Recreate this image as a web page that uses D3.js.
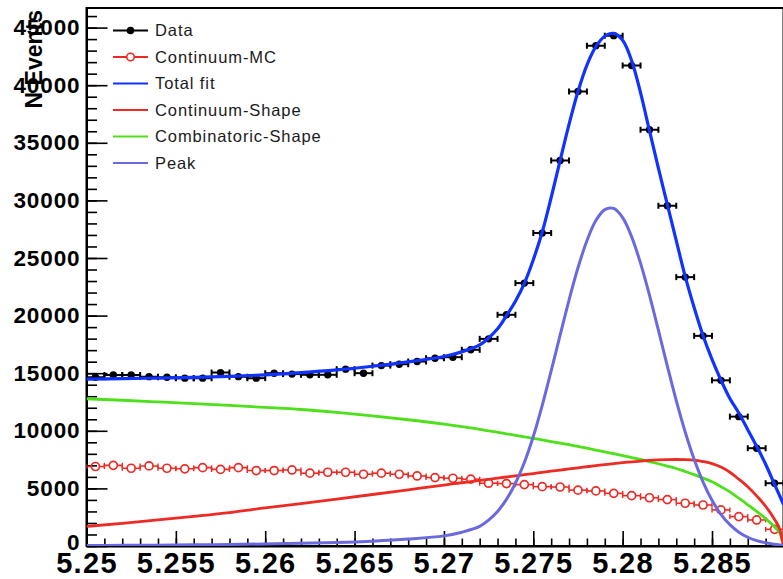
<!DOCTYPE html>
<html>
<head>
<meta charset="utf-8">
<script src="https://cdn.jsdelivr.net/npm/d3@7"></script>
<style>
  html, body { margin: 0; padding: 0; background: #fff; }
  svg { display: block; }
</style>
</head>
<body>
<svg id="chart" width="783" height="579"></svg>
<script>
// ---- mES histograms: bin centres (bin width 0.001 GeV) ----
const binCenters = [5.2505, 5.2515, 5.2525, 5.2535, 5.2545, 5.2555, 5.2565, 5.2575, 5.2585, 5.2595,
                    5.2605, 5.2615, 5.2625, 5.2635, 5.2645, 5.2655, 5.2665, 5.2675, 5.2685, 5.2695,
                    5.2705, 5.2715, 5.2725, 5.2735, 5.2745, 5.2755, 5.2765, 5.2775, 5.2785, 5.2795,
                    5.2805, 5.2815, 5.2825, 5.2835, 5.2845, 5.2855, 5.2865, 5.2875, 5.2885];
const binHalfWidth = 0.0005;

// on-peak data
const dataCounts = [14650, 14850, 14850, 14700, 14650, 14570, 14570, 15050, 14700, 14570,
                    15000, 14920, 14860, 14860, 15350, 15000, 15660, 15780, 16010, 16300,
                    16390, 17030, 17980, 20070, 22820, 27160, 33470, 39460, 43430, 44300,
                    41700, 36140, 29540, 23340, 18240, 14380, 11230, 8490, 5450];

// continuum Monte Carlo
const mcCounts = [6900, 7000, 6750, 6950, 6750, 6700, 6800, 6650, 6800, 6550,
                  6550, 6600, 6320, 6400, 6400, 6230, 6320, 6230, 6080, 5940,
                  5880, 5800, 5450, 5420, 5330, 5150, 5120, 4850, 4780, 4570,
                  4370, 4190, 4030, 3710, 3560, 3130, 2550, 2260, 1450];

// ---- fitted shapes, sampled along mES ----
const curveX = [5.250, 5.252, 5.254, 5.256, 5.258, 5.260, 5.262, 5.264, 5.266, 5.268,
                5.270, 5.271, 5.272, 5.2725, 5.273, 5.2735, 5.274, 5.2745, 5.275, 5.2755,
                5.276, 5.2765, 5.277, 5.2775, 5.278, 5.2785, 5.279, 5.2795, 5.280, 5.2805,
                5.281, 5.2815, 5.282, 5.2825, 5.283, 5.2835, 5.284, 5.2845, 5.285, 5.2855,
                5.286, 5.2865, 5.287, 5.2875, 5.288, 5.2885, 5.2888, 5.289];

const totalFit = [14480, 14530, 14580, 14640, 14730, 14860, 15050, 15290, 15600, 15980,
                  16450, 16850, 17450, 18050, 18850, 20000, 21250, 22800, 24850, 27250,
                  30250, 33450, 36600, 39450, 41750, 43350, 44250, 44500, 43900, 42150,
                  39350, 36050, 32800, 29650, 26500, 23400, 20700, 18250, 16200, 14400,
                  12800, 11550, 10100, 8650, 7100, 5350, 4300, 3600];

const continuumShape = [1700, 1970, 2260, 2570, 2900, 3300, 3680, 4070, 4470, 4880,
                        5290, 5490, 5690, 5790, 5890, 5990, 6090, 6190, 6290, 6390,
                        6490, 6590, 6690, 6790, 6880, 6970, 7060, 7150, 7230, 7300,
                        7370, 7430, 7470, 7500, 7510, 7500, 7460, 7330, 7150, 6850,
                        6400, 5800, 5150, 4350, 3450, 2300, 1400, 0];

const combinatoricShape = [12780, 12650, 12510, 12360, 12200, 12030, 11850, 11600, 11300, 10960,
                           10580, 10360, 10130, 9990, 9870, 9740, 9610, 9480, 9350, 9210,
                           9070, 8930, 8790, 8640, 8490, 8330, 8170, 8010, 7850, 7680,
                           7510, 7330, 7140, 6940, 6730, 6470, 6200, 5900, 5570, 5150,
                           4700, 4150, 3580, 3000, 2380, 1650, 1100, 0];

const peakShape = [40, 55, 75, 100, 135, 175, 230, 300, 420, 600,
                   880, 1200, 1700, 2250, 3000, 4050, 5450, 7250, 9500, 12200,
                   15200, 18300, 21350, 24150, 26500, 28250, 29200, 29300, 28500, 26850,
                   24550, 21780, 18730, 15620, 12620, 9900, 7530, 5550, 3970, 2750,
                   1850, 1200, 760, 470, 280, 150, 80, 0];

// ---- axes ----
const xMajorTicks = [5.25, 5.255, 5.26, 5.265, 5.27, 5.275, 5.28, 5.285];
const xTickLabels = ["5.25", "5.255", "5.26", "5.265", "5.27", "5.275", "5.28", "5.285"];
const yMajorTicks = [0, 5000, 10000, 15000, 20000, 25000, 30000, 35000, 40000, 45000];
const yTickLabels = ["0", "5000", "10000", "15000", "20000", "25000", "30000", "35000", "40000", "45000"];
const yTitle = "N Events";

const legendLabels = ["Data", "Continuum-MC", "Total fit", "Continuum-Shape", "Combinatoric-Shape", "Peak"];

// ---- layout ----
const plot = { left: 86.5, right: 783.5, top: 8, bottom: 546 };
const FONT = "'Liberation Sans', Arial, Helvetica, sans-serif";
const colors = {
  data: "#000000",
  mc: "#ee2a24",
  total: "#1133ff",
  continuum: "#ee2a24",
  combinatoric: "#4ee01a",
  peak: "#6a6ade"
};

const svg = d3.select("#chart");

const x = d3.scaleLinear().domain([5.25, 5.289]).range([plot.left, plot.right]);
const y = d3.scaleLinear().domain([0, 46700]).range([plot.bottom, plot.top]);

svg.append("defs").append("clipPath").attr("id", "plotClip")
  .append("rect")
  .attr("x", plot.left).attr("y", plot.top)
  .attr("width", plot.right - plot.left).attr("height", plot.bottom - plot.top);

// frame
svg.append("rect")
  .attr("x", plot.left).attr("y", plot.top)
  .attr("width", plot.right - plot.left).attr("height", plot.bottom - plot.top)
  .attr("fill", "none").attr("stroke", "#000").attr("stroke-width", 2);

// x axis: minor ticks every 0.001, major every 0.005 (ticks drawn inward)
const xMinor = d3.range(0, 40).map(i => 5.25 + i * 0.001);
svg.append("g")
  .attr("transform", `translate(0,${plot.bottom})`)
  .call(d3.axisBottom(x).tickValues(xMinor).tickFormat("").tickSizeInner(-7.5).tickSizeOuter(0))
  .call(g => g.select(".domain").remove())
  .call(g => g.selectAll("line").attr("stroke-width", 1.6));

svg.append("g")
  .attr("transform", `translate(0,${plot.bottom})`)
  .call(d3.axisBottom(x).tickValues(xMajorTicks)
        .tickFormat((d, i) => xTickLabels[i]).tickSizeInner(-15).tickSizeOuter(0).tickPadding(6))
  .call(g => g.select(".domain").attr("stroke-width", 2))
  .call(g => g.selectAll("line").attr("stroke-width", 1.6))
  .call(g => g.selectAll("text")
        .attr("font-family", FONT).attr("font-size", 29).attr("font-weight", "bold")
        .attr("letter-spacing", 1.3).attr("fill", "#000"));

// y axis: minor ticks every 1000, major every 5000
const yMinor = d3.range(0, 47).map(i => i * 1000);
svg.append("g")
  .attr("transform", `translate(${plot.left},0)`)
  .call(d3.axisLeft(y).tickValues(yMinor).tickFormat("").tickSizeInner(-10.5).tickSizeOuter(0))
  .call(g => g.select(".domain").remove())
  .call(g => g.selectAll("line").attr("stroke-width", 1.6));

svg.append("g")
  .attr("transform", `translate(${plot.left},0)`)
  .call(d3.axisLeft(y).tickValues(yMajorTicks)
        .tickFormat((d, i) => yTickLabels[i]).tickSizeInner(-21).tickSizeOuter(0).tickPadding(6))
  .call(g => g.select(".domain").attr("stroke-width", 2))
  .call(g => g.selectAll("line").attr("stroke-width", 1.6))
  .call(g => g.selectAll("text")
        .attr("font-family", FONT).attr("font-size", 22.5).attr("font-weight", "bold")
        .attr("letter-spacing", 0.9).attr("fill", "#000"))
  // the zero label sits a little higher so it clears the x labels
  .call(g => g.selectAll(".tick").filter(d => d === 0).select("text").attr("y", -3.5));

// y axis title, aligned with the top of the axis
svg.append("text")
  .attr("transform", `translate(42,${plot.top + 2}) rotate(-90)`)
  .attr("text-anchor", "end")
  .attr("font-family", FONT).attr("font-size", 23).attr("font-weight", "bold")
  .attr("fill", "#000")
  .text(yTitle);

const layer = svg.append("g").attr("clip-path", "url(#plotClip)");

// ---- data points with horizontal bin-width bars ----
const capH = 3;
const dataG = layer.append("g");
binCenters.forEach((c, i) => {
  const yy = y(dataCounts[i]);
  const x0 = x(c - binHalfWidth), x1 = x(c + binHalfWidth);
  dataG.append("line").attr("x1", x0).attr("x2", x1).attr("y1", yy).attr("y2", yy)
    .attr("stroke", colors.data).attr("stroke-width", 2);
  [x0, x1].forEach(xe => dataG.append("line")
    .attr("x1", xe).attr("x2", xe).attr("y1", yy - capH).attr("y2", yy + capH)
    .attr("stroke", colors.data).attr("stroke-width", 2));
  dataG.append("circle").attr("cx", x(c)).attr("cy", yy).attr("r", 3.7).attr("fill", colors.data);
});

// ---- continuum MC: open circles with bin-width bars ----
const mcG = layer.append("g");
const mcR = 4;
binCenters.forEach((c, i) => {
  const yy = y(mcCounts[i]);
  const xc = x(c), x0 = x(c - binHalfWidth), x1 = x(c + binHalfWidth);
  mcG.append("line").attr("x1", x0).attr("x2", xc - mcR).attr("y1", yy).attr("y2", yy)
    .attr("stroke", colors.mc).attr("stroke-width", 1.6);
  mcG.append("line").attr("x1", xc + mcR).attr("x2", x1).attr("y1", yy).attr("y2", yy)
    .attr("stroke", colors.mc).attr("stroke-width", 1.6);
  [x0, x1].forEach(xe => mcG.append("line")
    .attr("x1", xe).attr("x2", xe).attr("y1", yy - 2.5).attr("y2", yy + 2.5)
    .attr("stroke", colors.mc).attr("stroke-width", 1.4));
  mcG.append("circle").attr("cx", xc).attr("cy", yy).attr("r", mcR)
    .attr("fill", "none").attr("stroke", colors.mc).attr("stroke-width", 1.7);
});

// ---- fit curves ----
const monotone = d3.line().x(d => x(d[0])).y(d => y(d[1])).curve(d3.curveMonotoneX);
const smooth = d3.line().x(d => x(d[0])).y(d => y(d[1])).curve(d3.curveCatmullRom.alpha(0.5));

function drawCurve(values, color, width, gen) {
  layer.append("path")
    .datum(curveX.map((cx, i) => [cx, values[i]]))
    .attr("d", gen)
    .attr("fill", "none").attr("stroke", color).attr("stroke-width", width)
    .attr("stroke-linejoin", "round");
}
drawCurve(combinatoricShape, colors.combinatoric, 2.8, monotone);
drawCurve(continuumShape, colors.continuum, 2.8, monotone);
drawCurve(totalFit, colors.total, 3.2, smooth);
drawCurve(peakShape, colors.peak, 3, smooth);

// ---- legend ----
const legend = svg.append("g");
const legendStyle = [
  { color: colors.data, marker: "filled" },
  { color: colors.mc, marker: "open" },
  { color: colors.total },
  { color: colors.continuum },
  { color: colors.combinatoric },
  { color: colors.peak }
];
legendLabels.forEach((label, i) => {
  const ly = 30.5 + i * 26.5;
  const st = legendStyle[i];
  legend.append("line").attr("x1", 113).attr("x2", 148).attr("y1", ly).attr("y2", ly)
    .attr("stroke", st.color).attr("stroke-width", 2);
  if (st.marker === "filled") {
    legend.append("circle").attr("cx", 130.5).attr("cy", ly).attr("r", 3.8).attr("fill", st.color);
  } else if (st.marker === "open") {
    legend.append("circle").attr("cx", 130.5).attr("cy", ly).attr("r", 3.8)
      .attr("fill", "#fff").attr("stroke", st.color).attr("stroke-width", 1.6);
  }
  legend.append("text")
    .attr("x", 155).attr("y", ly).attr("dy", "0.36em")
    .attr("font-family", FONT).attr("font-size", 16.5).attr("letter-spacing", 0.9)
    .attr("fill", "#1a1a1a")
    .text(label);
});
</script>
</body>
</html>
